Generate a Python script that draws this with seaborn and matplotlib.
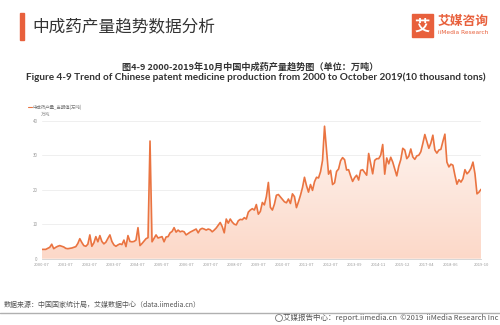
import numpy as np
import pandas as pd
import seaborn as sns
import matplotlib.pyplot as plt
from matplotlib.colors import LinearSegmentedColormap
from matplotlib.patches import Rectangle, Ellipse
from matplotlib.lines import Line2D

# ---------------- data ----------------
tick_labels = ["2000-07", "2001-07", "2002-07", "2003-07", "2004-07", "2005-07",
               "2006-07", "2007-07", "2008-07", "2009-07", "2010-07", "2011-07",
               "2012-07", "2013-09", "2014-11", "2015-12", "2017-04", "2018-06",
               "2019-10"]
tick_index = [0, 12, 24, 36, 48, 60, 72, 84, 96, 108, 120, 132, 144, 156,
              168, 180, 192, 204, 219]

production = [
    2.7, 2.7, 2.7, 3.0, 3.3, 4.2, 2.9, 3.3, 3.6, 3.8,
    3.6, 3.4, 3.0, 2.9, 3.0, 3.1, 3.3, 3.5, 4.4, 5.8,
    4.7, 3.8, 3.6, 4.2, 6.9, 3.6, 4.6, 6.4, 4.9, 6.7,
    5.0, 4.3, 4.8, 5.9, 6.9, 5.0, 4.0, 3.6, 4.0, 4.3,
    4.1, 5.4, 3.5, 6.7, 5.0, 4.9, 5.0, 5.4, 9.0, 3.8,
    4.4, 5.1, 5.8, 6.1, 34.1, 4.9, 5.9, 6.9, 6.0, 6.2,
    6.4, 4.9, 6.3, 6.4, 7.5, 7.9, 9.0, 7.7, 8.3, 7.8,
    8.0, 7.8, 6.9, 7.3, 7.7, 8.0, 8.3, 8.6, 7.5, 8.5,
    8.8, 8.6, 8.3, 8.6, 8.4, 7.8, 8.3, 8.9, 9.7, 10.5,
    9.3, 7.5, 11.5, 10.3, 11.5, 10.6, 10.0, 9.8, 11.0, 11.4,
    11.3, 11.9, 11.5, 13.5, 14.1, 14.5, 14.1, 15.7, 12.9, 13.7,
    16.3, 15.6, 18.0, 22.1, 14.9, 14.1, 15.8, 18.4, 18.6, 17.9,
    17.2, 16.5, 16.2, 17.3, 16.0, 18.8, 18.0, 14.8, 16.5, 18.4,
    20.6, 23.6, 21.2, 19.3, 21.5, 19.8, 22.3, 23.6, 23.4, 25.2,
    28.5, 38.4, 31.5, 24.5, 25.6, 21.5, 22.0, 25.3, 26.0, 28.4,
    29.3, 28.7, 25.7, 25.8, 24.0, 22.4, 23.5, 24.2, 22.8, 25.6,
    25.8, 25.0, 24.2, 30.5, 27.5, 24.6, 28.5, 29.0, 29.0, 30.0,
    33.1, 24.5, 29.2, 27.5, 29.4, 28.0, 26.0, 24.0, 26.8, 28.7,
    32.0, 31.5, 29.0, 29.7, 31.8, 29.5, 28.8, 29.8, 30.0, 31.0,
    33.4, 36.0, 34.0, 32.0, 33.5, 35.8, 31.5, 30.6, 31.5, 31.7,
    34.0, 36.1, 28.0, 26.6, 27.4, 27.1, 24.2, 21.6, 22.9, 22.2,
    23.2, 25.8, 24.6, 25.2, 26.2, 28.0, 24.6, 18.8, 19.3, 20.1,
]
y_ticks = [0, 10, 20, 30, 40]

# ---------------- style ----------------
sns.set_theme(style="white")
plt.rcParams["font.family"] = ["Noto Sans CJK SC", "DejaVu Sans"]

LINE = "#ea7441"
ORANGE = "#e8603c"
W, H = 500, 325


def fx(x):
    return x / W


def fy(y):
    return 1 - y / H


fig = plt.figure(figsize=(5, 3.25), dpi=100)
fig.patch.set_facecolor("white")

ax = fig.add_axes([fx(41.7), fy(258.7), (481 - 41.7) / W, (258.7 - 120.7) / H])

df = pd.DataFrame({"idx": np.arange(len(production)), "value": production})

sns.lineplot(data=df, x="idx", y="value", ax=ax, color=LINE, linewidth=1.2, zorder=4)

# gradient area
poly = ax.fill_between(df["idx"], df["value"], 0, facecolor="none", edgecolor="none")
cmap = LinearSegmentedColormap.from_list("g", ["#fcd8c8", "#fef6f2"])
grad = np.linspace(0, 1, 256).reshape(-1, 1)
im = ax.imshow(grad, extent=[0, len(production) - 1, 0, 40], origin="lower",
               aspect="auto", cmap=cmap, zorder=2)
im.set_clip_path(poly.get_paths()[0], transform=ax.transData)

ax.set_xlim(0, len(production) - 1)
ax.set_ylim(0, 40)
ax.set_xlabel("")
ax.set_ylabel("")
ax.set_yticks(y_ticks)
ax.set_yticklabels([str(v) for v in y_ticks], fontsize=3.2, color="#9a9a9a")
ax.set_xticks(tick_index)
ax.set_xticklabels(tick_labels, fontsize=3.0, color="#9a9a9a")
ax.tick_params(axis="both", length=0, pad=3)
ax.grid(axis="y", color="#ececec", linewidth=0.6)
ax.grid(axis="x", visible=False)
for s in ["top", "right", "left"]:
    ax.spines[s].set_visible(False)
ax.spines["bottom"].set_color("#d0d0d0")
ax.spines["bottom"].set_linewidth(0.6)
ax.set_axisbelow(True)

# legend and unit
fig.add_artist(Line2D([fx(27.7), fx(31.7)], [fy(107.3), fy(107.3)], color=LINE, lw=0.8))
fig.text(fx(33), fy(107.3), "中成药产量_当期值(万吨)", fontsize=3.2, color="#777777",
         va="center", ha="left")
fig.text(fx(41), fy(114.5), "万吨", fontsize=3.4, color="#999999", va="center", ha="left")

# header
fig.add_artist(Rectangle((fx(20), fy(40)), fx(4), (40 - 12.7) / H, color=ORANGE,
                         transform=fig.transFigure))
fig.text(fx(32), fy(26.5), "中成药产量趋势数据分析", fontsize=12, color="#333333",
         va="center", ha="left")

# logo
fig.add_artist(Rectangle((fx(411.7), fy(36.7)), (433.3 - 411.7) / W, (36.7 - 14) / H,
                         color=ORANGE, transform=fig.transFigure))
fig.text(fx(422.5), fy(25.5), "艾", fontsize=11, color="white", weight="bold",
         va="center", ha="center")
fig.text(fx(438), fy(21.5), "艾媒咨询", fontsize=9.2, color=ORANGE, weight="bold",
         va="center", ha="left")
fig.text(fx(438), fy(32.5), "iiMedia Research", fontsize=4.2, color=ORANGE,
         va="center", ha="left", family=["DejaVu Sans"])

# subtitles
fig.text(0.5, fy(66.7), "图4-9 2000-2019年10月中国中成药产量趋势图（单位：万吨）",
         fontsize=6.6, color="#333333", weight="bold", va="center", ha="center")
fig.text(0.512, fy(77), "Figure 4-9 Trend of Chinese patent medicine production from 2000 to October 2019(10 thousand tons)",
         fontsize=7.2, color="#333333", weight="bold", va="center", ha="center",
         family=["Lato", "DejaVu Sans"])

# footer
fig.text(fx(4), fy(305), "数据来源：中国国家统计局，艾媒数据中心（data.iimedia.cn）",
         fontsize=5.0, color="#555555", va="center", ha="left")
fig.add_artist(Line2D([0, 1], [fy(313.3), fy(313.3)], color="#b0b0b0", lw=1.0))
fig.add_artist(Ellipse((fx(279), fy(318)), 7 / W, 7 / H, facecolor="none",
                       edgecolor="#777777", lw=0.6, transform=fig.transFigure))
fig.text(fx(498), fy(318), "艾媒报告中心：report.iimedia.cn  ©2019  iiMedia Research Inc",
         fontsize=5.4, color="#555555", va="center", ha="right")

fig.savefig("out.png", dpi=100, facecolor="white")
